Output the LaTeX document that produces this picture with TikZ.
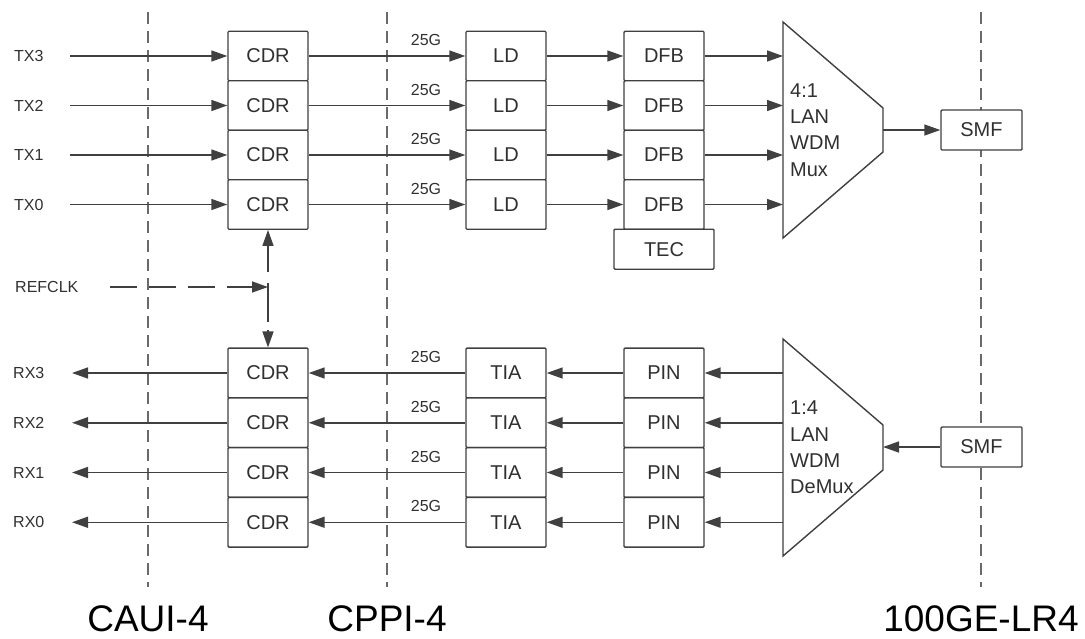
\documentclass[tikz,border=0pt]{standalone}
\usepackage{fontspec}
\setmainfont{Liberation Sans}
\usetikzlibrary{arrows.meta}
\definecolor{lc}{HTML}{404040}
\definecolor{tc}{HTML}{303030}
\definecolor{dc}{HTML}{6A6A6A}
\begin{document}
\begin{tikzpicture}[x=1pt,y=-1pt,
 blk/.style={draw=lc, line width=1.4pt, fill=white, rounded corners=1pt, minimum width=80pt, minimum height=49.5pt, inner sep=0pt, text=tc, font=\fontsize{20}{24}\selectfont},
 conn/.style={draw=lc, line width=1.5pt, -{Triangle[length=16pt,width=11pt]}},
 lbl/.style={text=tc, font=\fontsize{16}{19}\selectfont, inner sep=0pt},
 divider/.style={draw=dc, line width=1.3pt, dash pattern=on 12pt off 7pt},
 captxt/.style={text=black, font=\fontsize{37}{44}\selectfont, inner sep=0pt},
 muxshape/.style={draw=lc, line width=1.4pt, fill=white},
 muxtext/.style={text=tc, font=\fontsize{20}{26.3}\selectfont, align=left, inner sep=0pt, anchor=west},
 refline/.style={draw=lc, line width=1.5pt, -{Triangle[length=16pt,width=11pt]}}
]
\useasboundingbox (0,0) rectangle (1085,638);

% dividers
\coordinate (d1t) at (148,12); \coordinate (d1b) at (148,587);
\coordinate (d2t) at (387,12); \coordinate (d2b) at (387,587);
\coordinate (d3t) at (981,12); \coordinate (d3b) at (981,587);
\draw[divider] (d1t) -- (d1b);
\draw[divider] (d2t) -- (d2b);
\draw[divider] (d3t) -- (d3b);

% transmit side
\foreach \i/\y in {3/56,2/105.5,1/155,0/204.5}{
  \node[blk] (cdrT\i) at (268,\y) {CDR};
  \node[blk] (ldT\i) at (506,\y) {LD};
  \node[blk] (dfbT\i) at (664,\y) {DFB};
  \node[lbl, anchor=west] (tx\i) at (14,\y) {TX\i};
  \coordinate (txs\i) at (70,\y);
  \node[lbl] (gT\i) at (426,\y-16) {25G};
  \coordinate (mi\i) at (783,\y);
}
\node[blk, minimum width=100pt, minimum height=40pt] (tec) at (664,249.2) {TEC};
\draw[muxshape] (783,22) -- (883,108) -- (883,152) -- (783,238) -- cycle;
\node[muxtext] (muxtxt) at (790,130) {4:1\\LAN\\WDM\\Mux};
\node[blk, minimum width=81pt, minimum height=40pt] (smfT) at (981.5,130) {SMF};
\coordinate (mo) at (883,130);
\foreach \i in {3,2,1,0}{
  \draw[conn] (txs\i) -- (cdrT\i.west);
  \draw[conn] (cdrT\i.east) -- (ldT\i.west);
  \draw[conn] (ldT\i.east) -- (dfbT\i.west);
  \draw[conn] (dfbT\i.east) -- (mi\i);
}
\draw[conn] (mo) -- (smfT.west);

% receive side
\foreach \i/\y in {3/373,2/422.75,1/472.5,0/522.25}{
  \node[blk, minimum height=49.75pt] (cdrR\i) at (268,\y) {CDR};
  \node[blk, minimum height=49.75pt] (tiaR\i) at (506,\y) {TIA};
  \node[blk, minimum height=49.75pt] (pinR\i) at (664,\y) {PIN};
  \node[lbl, anchor=west] (rx\i) at (13,\y) {RX\i};
  \coordinate (rxe\i) at (72,\y);
  \node[lbl] (gR\i) at (426,\y-16) {25G};
  \coordinate (di\i) at (783,\y);
}
\draw[muxshape] (783,339) -- (883,425) -- (883,470) -- (783,556) -- cycle;
\node[muxtext] (dmuxtxt) at (790,447.5) {1:4\\LAN\\WDM\\DeMux};
\node[blk, minimum width=81pt, minimum height=40pt] (smfR) at (981.5,447) {SMF};
\coordinate (dmo) at (883,447);
\foreach \i in {3,2,1,0}{
  \draw[conn] (cdrR\i.west) -- (rxe\i);
  \draw[conn] (tiaR\i.west) -- (cdrR\i.east);
  \draw[conn] (pinR\i.west) -- (tiaR\i.east);
  \draw[conn] (di\i) -- (pinR\i.east);
}
\draw[conn] (smfR.west) -- (dmo);

% reference clock
\node[lbl, anchor=west] (refclk) at (15,287) {REFCLK};
\coordinate (rs) at (110,287);
\coordinate (rj) at (268,287);
\draw[refline, dash pattern=on 27pt off 12pt] (rs) -- (rj);
\draw[refline, dash pattern=on 4pt off 11pt on 60pt] (rj) -- (cdrT0.south);
\draw[refline, dash pattern=on 35pt off 8pt on 40pt] (rj) -- (cdrR3.north);

% captions
\node[captxt] (c1) at (148,619) {CAUI-4};
\node[captxt] (c2) at (387,619) {CPPI-4};
\node[captxt] (c3) at (981,619) {100GE-LR4};
\end{tikzpicture}
\end{document}
